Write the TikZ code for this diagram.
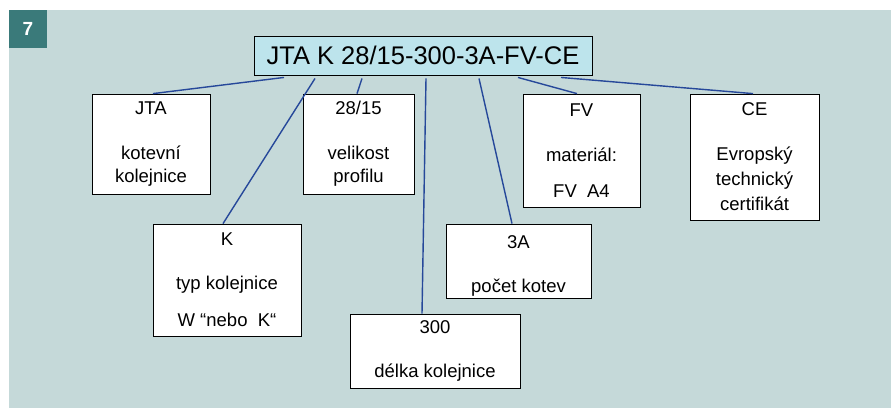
\documentclass[tikz,border=0pt]{standalone}
\usepackage{fontspec}
\setmainfont{Liberation Sans}
\usepackage{xcolor}
\usepackage{tikz}
\usetikzlibrary{positioning, calc}

\definecolor{panelgray}{HTML}{C5D9D9}
\definecolor{tagteal}{HTML}{3A7A7A}
\definecolor{codeblue}{HTML}{BDE4EC}
\definecolor{linkblue}{HTML}{26489A}

\begin{document}
\begin{tikzpicture}[x=1pt, y=-1pt,
    codebox/.style={rectangle, draw=black, line width=0.9pt, fill=codeblue, minimum width=338pt, minimum height=39pt, inner sep=0pt, font=\fontsize{25.5}{28}\selectfont},
    partbox/.style={rectangle, draw=black, line width=0.8pt, fill=white, inner sep=0pt, align=center, font=\fontsize{18.5}{23}\selectfont},
    link/.style={draw=linkblue, line width=1.4pt}]
    \useasboundingbox (0,0) rectangle (891,408);
    \fill[panelgray] (9,10) rectangle (891,408);
    \node[fill=tagteal, text=white, minimum size=38pt, inner sep=0pt, font=\fontsize{19}{20}\selectfont\bfseries] (tag) at (28,29) {7};

    \node[codebox] (main) at (423,55.5) {JTA K 28/15-300-3A-FV-CE};

    \node[partbox, minimum width=118pt, minimum height=100pt] (jta) at (151,144) {JTA\\[22pt]kotevní\\kolejnice};
    \node[partbox, minimum width=111pt, minimum height=100pt] (prof) at (358.5,144) {28/15\\[22pt]velikost\\profilu};
    \node[partbox, minimum width=117pt, minimum height=113pt] (mat) at (581.5,150.5) {FV\\[22pt]materiál:\\[13pt]FV\ \ A4};
    \node[partbox, minimum width=129pt, minimum height=126pt] (cert) at (754.5,157) {CE\\[22pt]Evropský\\[2pt]technický\\[2pt]certifikát};
    \node[partbox, minimum width=148pt, minimum height=112pt] (typ) at (227,280) {K\\[21pt]typ kolejnice\\[14pt]W “nebo\ \ K“};
    \node[partbox, minimum width=145pt, minimum height=74pt] (kotvy) at (518.5,261) {\rule{0pt}{23pt}3A\\[21pt]počet kotev};
    \node[partbox, minimum width=170pt, minimum height=74pt] (delka) at (435,351) {300\\[21pt]délka kolejnice};

    \draw[link] ([xshift=-139pt,yshift=-2pt]main.south) -- ([xshift=2pt]jta.north);
    \draw[link] ([xshift=-108pt,yshift=-3pt]main.south) -- ([xshift=-4pt]typ.north);
    \draw[link] ([xshift=-61pt,yshift=-3pt]main.south) -- ([xshift=-1.5pt]prof.north);
    \draw[link] ([xshift=3pt,yshift=-3pt]main.south) -- ([xshift=-13pt]delka.north);
    \draw[link] ([xshift=56pt,yshift=-3pt]main.south) -- ([xshift=-6.5pt]kotvy.north);
    \draw[link] ([xshift=95pt,yshift=-2pt]main.south) -- ([xshift=-4.5pt]mat.north);
    \draw[link] ([xshift=138pt,yshift=-2pt]main.south) -- ([xshift=-1.5pt]cert.north);
\end{tikzpicture}
\end{document}
